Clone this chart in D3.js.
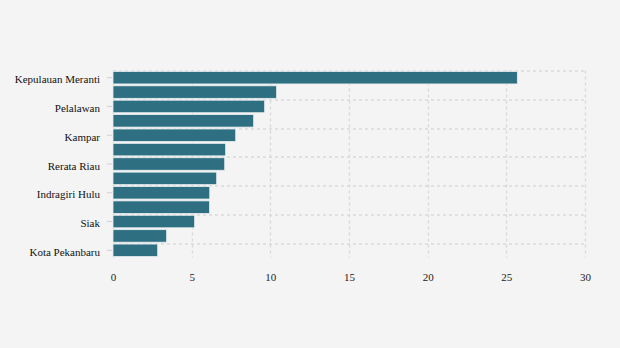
<!DOCTYPE html>
<html>
<head>
<meta charset="utf-8">
<script src="https://cdn.jsdelivr.net/npm/d3@7"></script>
<style>
  html, body { margin: 0; padding: 0; background: #f4f4f4; }
  svg { display: block; }
</style>
</head>
<body>
<svg id="chart" width="620" height="348"></svg>
<script>
// Regions of Riau, sorted by value (percent)
const regions = [
  "Kepulauan Meranti", "Rokan Hulu", "Pelalawan", "Kuantan Singingi",
  "Kampar", "Indragiri Hilir", "Rerata Riau", "Rokan Hilir",
  "Indragiri Hulu", "Bengkalis", "Siak", "Dumai", "Kota Pekanbaru"
];
const values = [25.7, 10.4, 9.64, 8.94, 7.8, 7.16, 7.1, 6.59, 6.15, 6.14, 5.19, 3.41, 2.84];
const xTicks = [0, 5, 10, 15, 20, 25, 30];

const svg = d3.select("#chart");
const margin = { top: 70.5, right: 35, bottom: 90.5, left: 113 };
const W = 620, H = 348;
const innerW = W - margin.left - margin.right;
const innerH = H - margin.top - margin.bottom;

const x = d3.scaleLinear().domain([0, 30]).range([0, innerW]);
const y = d3.scaleBand().domain(regions).range([0, innerH]).paddingInner(0.13).paddingOuter(0.065);
const step = y.step();

const g = svg.append("g").attr("transform", `translate(${margin.left},${margin.top})`);

// Horizontal grid on the boundary of every other category
const gridColor = "#d9d9d9";
const labelled = regions.filter((d, i) => i % 2 === 0);
g.append("g").selectAll("line")
  .data(labelled)
  .join("line")
  .attr("x1", 0).attr("x2", innerW)
  .attr("y1", d => Math.round(regions.indexOf(d) * step) + 0.5)
  .attr("y2", d => Math.round(regions.indexOf(d) * step) + 0.5)
  .attr("stroke", gridColor).attr("stroke-width", 1.3).attr("stroke-dasharray", "3,3");

// Vertical grid
g.append("g").selectAll("line")
  .data(xTicks)
  .join("line")
  .attr("x1", d => Math.round(x(d)) + 0.5).attr("x2", d => Math.round(x(d)) + 0.5)
  .attr("y1", 0).attr("y2", innerH)
  .attr("stroke", gridColor).attr("stroke-width", 1.3).attr("stroke-dasharray", "3,3");

// Bars
g.append("g").selectAll("rect")
  .data(regions)
  .join("rect")
  .attr("x", x(0))
  .attr("y", d => y(d))
  .attr("width", (d, i) => x(values[i]) - x(0))
  .attr("height", y.bandwidth())
  .attr("fill", "#2e6f82")
  .attr("stroke", "#e8eef0")
  .attr("stroke-width", 0.8);

const serif = "'Liberation Serif', 'Times New Roman', serif";

// Y axis: ticks and labels on every other category
const yAxis = d3.axisLeft(y).tickValues(labelled).tickSize(5).tickPadding(7);
const ya = g.append("g").attr("transform", "translate(-1,0)").call(yAxis)
  .attr("font-family", serif).attr("font-size", 11);
ya.select(".domain").remove();
ya.selectAll(".tick line").attr("stroke", "#cfcfcf");
ya.selectAll(".tick text").attr("fill", "#111").attr("dy", "0.5em")
  .style("font-family", serif).style("font-size", "11px");

// X axis labels
const xAxis = d3.axisBottom(x).tickValues(xTicks).tickSize(0).tickPadding(16);
const xa = g.append("g").attr("transform", `translate(0,${innerH})`).call(xAxis)
  .attr("font-family", serif).attr("font-size", 11);
xa.select(".domain").remove();
xa.selectAll(".tick text").attr("fill", "#222")
  .style("font-family", serif).style("font-size", "11px");
</script>
</body>
</html>
